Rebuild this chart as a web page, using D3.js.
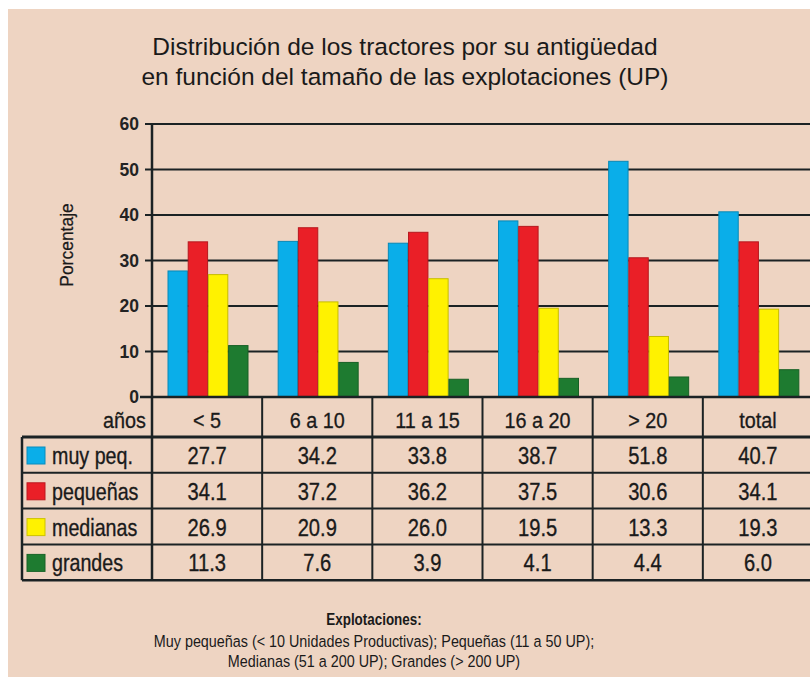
<!DOCTYPE html>
<html>
<head>
<meta charset="utf-8">
<script src="https://cdn.jsdelivr.net/npm/d3@7"></script>
<style>
  html, body { margin: 0; padding: 0; background: #ffffff; }
  svg { display: block; }
  text { font-family: "Liberation Sans", Arial, Helvetica, sans-serif; }
</style>
</head>
<body>
<svg id="chart" width="810" height="677"></svg>
<script>
const titleLines = ["Distribución de los tractores por su antigüedad", "en función del tamaño de las explotaciones (UP)"];
const categories = ["< 5", "6 a 10", "11 a 15", "16 a 20", "> 20", "total"];
const seriesNames = ["muy peq.", "pequeñas", "medianas", "grandes"];
const seriesColors = ["#0aaee9", "#ea1f27", "#fff200", "#1e7b30"];
const muyPeq   = [27.7, 34.2, 33.8, 38.7, 51.8, 40.7];
const pequenas = [34.1, 37.2, 36.2, 37.5, 30.6, 34.1];
const medianas = [26.9, 20.9, 26.0, 19.5, 13.3, 19.3];
const grandes  = [11.3, 7.6, 3.9, 4.1, 4.4, 6.0];
const yTicks = [0, 10, 20, 30, 40, 50, 60];
const yLabel = "Porcentaje";
const headerLabel = "años";
const footerTitle = "Explotaciones:";
const footerLines = ["Muy pequeñas (< 10 Unidades Productivas); Pequeñas (11 a 50 UP);", "Medianas (51 a 200 UP); Grandes (> 200 UP)"];

const seriesValues = [muyPeq, pequenas, medianas, grandes];
const fmt = d3.format(".1f");

const svg = d3.select("#chart");
const W = 810, H = 677;
const bg = "#eed4c2";
const ink = "#1b2224";
const txt = "#1a1a1a";

// horizontally condensed text helper
function ntext(parent, x, y, str, size, sx, anchor, weight, rotate, heavy) {
  const g = parent.append("g")
    .attr("transform", `translate(${x},${y})` + (rotate ? ` rotate(${rotate})` : "") + ` scale(${sx},1)`);
  const t = g.append("text").attr("x", 0).attr("y", 0)
    .attr("text-anchor", anchor || "start")
    .attr("font-size", size)
    .attr("font-weight", weight || "normal")
    .attr("fill", txt)
    .text(str);
  if (heavy) t.attr("stroke", txt).attr("stroke-width", heavy);
  return t;
}

svg.append("rect").attr("x", 8).attr("y", 9).attr("width", W - 8).attr("height", H - 9).attr("fill", bg);

// Title
svg.append("g").selectAll("text").data(titleLines).join("text")
  .attr("x", 405).attr("y", (d, i) => 55 + i * 30)
  .attr("text-anchor", "middle")
  .attr("font-size", 24.5).attr("fill", txt)
  .text(d => d);

// Scales
const x0 = 152, xEnd = 813;
const y = d3.scaleLinear().domain([0, 60]).range([397, 124]);
const xBand = d3.scaleBand().domain(categories).range([x0, xEnd]);
const xInner = d3.scaleBand().domain(seriesNames).range([16, 96]).paddingInner(0.04);

// Gridlines + ticks
svg.append("g").selectAll("line").data(yTicks).join("line")
  .attr("x1", 145).attr("x2", W)
  .attr("y1", d => y(d)).attr("y2", d => y(d))
  .attr("stroke", ink).attr("stroke-width", 2);

// Y tick labels via axis
const yAxis = d3.axisLeft(y).tickValues(yTicks).tickSize(0).tickPadding(0).tickFormat(d3.format("d"));
const gy = svg.append("g").attr("transform", "translate(139,0)").call(yAxis);
gy.select(".domain").remove();
gy.selectAll("text")
  .attr("font-family", null)
  .attr("font-size", 17.5).attr("font-weight", "bold").attr("fill", "#232323")
  .attr("dy", "0.32em");

// Bars
const groups = svg.append("g").selectAll("g").data(categories).join("g")
  .attr("transform", d => `translate(${xBand(d)},0)`);
groups.selectAll("rect")
  .data((c, ci) => seriesNames.map((s, si) => ({ s, si, v: seriesValues[si][ci] })))
  .join("rect")
  .attr("x", d => xInner(d.s))
  .attr("width", xInner.bandwidth())
  .attr("y", d => y(d.v))
  .attr("height", d => y(0) - y(d.v))
  .attr("fill", d => seriesColors[d.si])
  .attr("stroke", d => d3.color(seriesColors[d.si]).darker(0.7))
  .attr("stroke-width", 1);

// Zero line above bars
svg.append("line").attr("x1", 140).attr("x2", W).attr("y1", y(0)).attr("y2", y(0))
  .attr("stroke", ink).attr("stroke-width", 2.5);

// Table
const headerTop = 397, rowTop = 437, rowH = 35.8;
const tableLeft = 22;
const tableBottom = rowTop + seriesNames.length * rowH;

const tbl = svg.append("g");
tbl.append("line").attr("x1", x0).attr("x2", x0).attr("y1", y(60)).attr("y2", tableBottom)
  .attr("stroke", ink).attr("stroke-width", 2.5);
tbl.selectAll("line.sep").data(categories.slice(1)).join("line").attr("class", "sep")
  .attr("x1", d => xBand(d)).attr("x2", d => xBand(d))
  .attr("y1", headerTop).attr("y2", tableBottom)
  .attr("stroke", ink).attr("stroke-width", 2);
tbl.append("line").attr("x1", tableLeft).attr("x2", tableLeft).attr("y1", rowTop).attr("y2", tableBottom)
  .attr("stroke", ink).attr("stroke-width", 2.5);
tbl.append("line").attr("x1", tableLeft).attr("x2", W).attr("y1", rowTop).attr("y2", rowTop)
  .attr("stroke", ink).attr("stroke-width", 3);
tbl.selectAll("line.row").data(seriesNames).join("line").attr("class", "row")
  .attr("x1", tableLeft).attr("x2", W)
  .attr("y1", (d, i) => rowTop + (i + 1) * rowH).attr("y2", (d, i) => rowTop + (i + 1) * rowH)
  .attr("stroke", ink).attr("stroke-width", (d, i) => i === seriesNames.length - 1 ? 2.5 : 2);

// header row
ntext(tbl, 146, 428, headerLabel, 22, 0.9, "end", "normal", 0, 0.3);
categories.forEach(c => ntext(tbl, xBand(c) + xBand.bandwidth() / 2, 428, c, 22, 0.9, "middle", "normal", 0, 0.3));

// series rows
seriesNames.forEach((s, si) => {
  const ry = rowTop + si * rowH;
  tbl.append("rect").attr("x", 27).attr("y", ry + 10).attr("width", 18).attr("height", 17)
    .attr("fill", seriesColors[si])
    .attr("stroke", d3.color(seriesColors[si]).darker(0.6)).attr("stroke-width", 1);
  ntext(tbl, 52, ry + 27, s, 24, 0.82, "start", "normal", 0, 0.35);
  categories.forEach((c, ci) => {
    ntext(tbl, xBand(c) + xBand.bandwidth() / 2, ry + 27, fmt(seriesValues[si][ci]), 24, 0.84, "middle", "normal", 0, 0.35);
  });
});

// Y label
ntext(svg, 73, 245, yLabel, 19, 0.92, "middle", "normal", -90, 0.25);

// Footer
ntext(svg, 374, 625, footerTitle, 17, 0.79, "middle", "bold");
footerLines.forEach((l, i) => ntext(svg, 374, 647 + i * 20, l, 17, 0.845, "middle"));
</script>
</body>
</html>
